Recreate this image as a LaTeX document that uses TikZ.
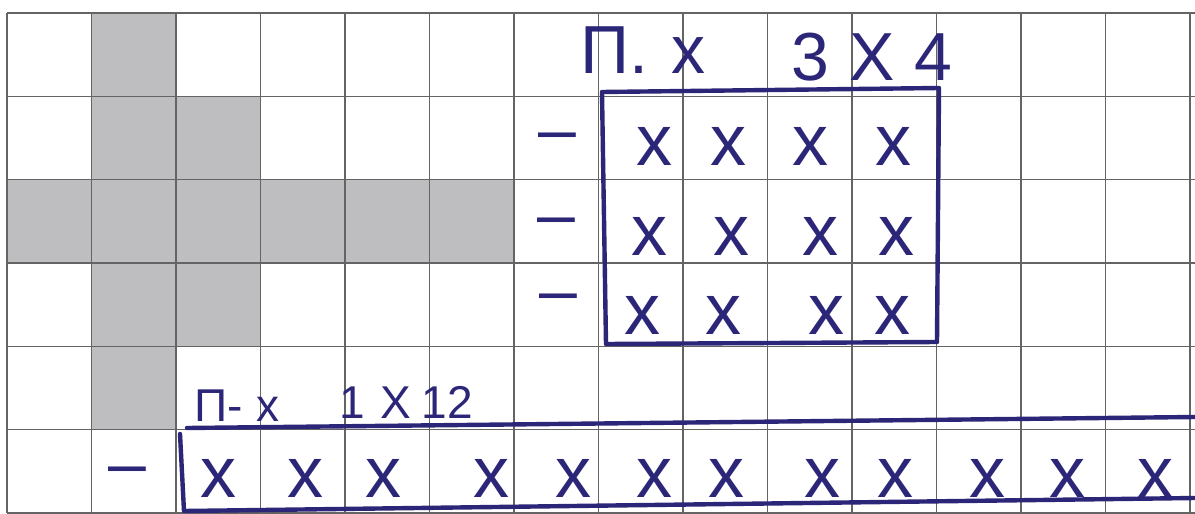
\documentclass[tikz,border=0pt]{standalone}
\usepackage{fontspec}
\setmainfont{Liberation Sans}
\definecolor{ink}{RGB}{44,38,120}
\definecolor{greyfill}{RGB}{190,190,193}
\definecolor{gridc}{RGB}{100,100,100}
\tikzset{
  gridline/.style={draw=gridc, line width=0.7pt},
  inkline/.style={draw=ink, line width=2.2pt, line cap=round, line join=round},
  cross/.style={text=ink, inner sep=0pt, font=\fontsize{36}{36}\selectfont},
  dashmark/.style={text=ink, inner sep=0pt, font=\fontsize{34}{34}\selectfont},
  biglabel/.style={text=ink, inner sep=0pt, font=\fontsize{34}{34}\selectfont},
  smalllabel/.style={text=ink, inner sep=0pt, font=\fontsize{23}{23}\selectfont}
}
\begin{document}
\begin{tikzpicture}[x=0.5pt,y=-0.5pt]
\useasboundingbox (0,0) rectangle (1195,514);
\fill[white] (0,0) rectangle (1195,514);
% grey cross shape
\fill[greyfill] (91.5,13) rectangle (176,430);
\fill[greyfill] (176,96.3) rectangle (260.5,346.3);
\fill[greyfill] (7,179.6) rectangle (514,263);
% grid
\foreach \i in {0,...,14} \draw[gridline] ({7+84.5*\i},13) -- ({7+84.5*\i},513);
\foreach \j in {0,...,6} \draw[gridline] (7,{13+83.33*\j}) -- (1195,{13+83.33*\j});
% rectangle 3x4
\coordinate (r1a) at (602,92);
\coordinate (r1b) at (939,88);
\coordinate (r1c) at (937,342);
\coordinate (r1d) at (606,344);
\draw[inkline] (r1a) -- (r1b) -- (r1c) -- (r1d) -- cycle;
% rectangle 1x12
\coordinate (r2a) at (187,428);
\coordinate (r2b) at (1195,417);
\coordinate (r2c) at (180,434);
\coordinate (r2d) at (184,511);
\coordinate (r2e) at (1195,498);
\draw[inkline] (r2a) -- (r2b);
\draw[inkline] (r2c) -- (r2d) -- (r2e);
% labels
\node[biglabel] (lab1) at (643,50) {Π.\hspace{12pt}x};
\node[biglabel] (lab2) at (872,57) {3\hspace{10pt}X\hspace{10pt}4};
\node[smalllabel] (lab3) at (237,406) {Π-\hspace{7pt}x};
\node[smalllabel] (lab4) at (406,402) {1\hspace{8pt}X\hspace{5pt}12};
% dashes
\node[dashmark] (d1) at (557,143) {–};
\node[dashmark] (d2) at (556,228) {–};
\node[dashmark] (d3) at (558,304) {–};
\node[dashmark] (d4) at (127,477) {–};
% crosses in 3x4
\foreach \x [count=\k] in {654,728,810,893} \node[cross] (a\k) at (\x,146) {x};
\foreach \x [count=\k] in {649,731,820,896} \node[cross] (b\k) at (\x,236) {x};
\foreach \x [count=\k] in {642,723,826,892} \node[cross] (c\k) at (\x,315) {x};
% crosses in 1x12
\foreach \x [count=\k] in {218,305,383,491,573,654,726,822,895,987,1067,1155} \node[cross] (e\k) at (\x,478) {x};
\end{tikzpicture}
\end{document}
